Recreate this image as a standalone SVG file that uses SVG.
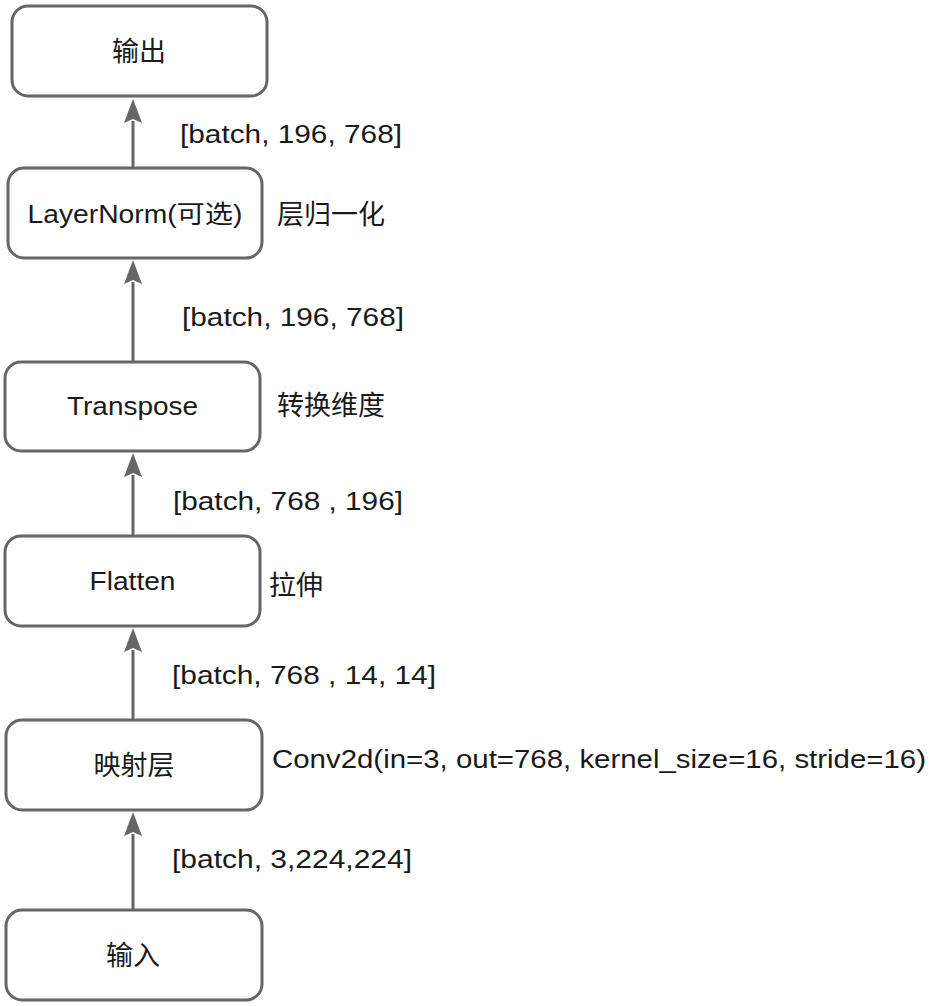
<svg xmlns="http://www.w3.org/2000/svg" width="944" height="1006" viewBox="0 0 944 1006">
<defs>
<style>
.box{fill:#fff;stroke:#666;stroke-width:3}
.t{font-family:"Liberation Sans","Noto Sans CJK SC",sans-serif;font-size:25px;fill:#1a1a1a}
.c{font-family:"Noto Sans CJK SC",sans-serif;font-size:27px;fill:#1a1a1a}
.m{text-anchor:middle}
.edge{stroke:#666;stroke-width:3;fill:none}
.head{fill:#666}
</style>
<marker id="arr" viewBox="0 0 20 24" refX="10" refY="0" markerWidth="20" markerHeight="24" markerUnits="userSpaceOnUse" orient="auto-start-reverse">
<path d="M10 0 L1 24 L10 20 L19 24 Z" class="head"/>
</marker>
</defs>
<rect width="944" height="1006" fill="#fff"/>
<g id="connectors">
<line class="edge" x1="133" y1="910" x2="133" y2="834"/>
<path class="head" d="M133 812 L124 836 L133 832 L142 836 Z"/>
<line class="edge" x1="133" y1="720" x2="133" y2="650"/>
<path class="head" d="M133 628 L124 652 L133 648 L142 652 Z"/>
<line class="edge" x1="133" y1="536" x2="133" y2="475"/>
<path class="head" d="M133 453 L124 477 L133 473 L142 477 Z"/>
<line class="edge" x1="133" y1="362" x2="133" y2="282"/>
<path class="head" d="M133 260 L124 284 L133 280 L142 284 Z"/>
<line class="edge" x1="133" y1="168" x2="133" y2="121"/>
<path class="head" d="M133 99 L124 123 L133 119 L142 123 Z"/>
<text class="t" x="180" y="143" textLength="222" lengthAdjust="spacingAndGlyphs">[batch, 196, 768]</text>
<text class="t" x="182" y="326" textLength="222" lengthAdjust="spacingAndGlyphs">[batch, 196, 768]</text>
<text class="t" x="173" y="510" textLength="230" lengthAdjust="spacingAndGlyphs">[batch, 768 , 196]</text>
<text class="t" x="172" y="684" textLength="264" lengthAdjust="spacingAndGlyphs">[batch, 768 , 14, 14]</text>
<text class="t" x="172" y="868" textLength="240" lengthAdjust="spacingAndGlyphs">[batch, 3,224,224]</text>
</g>
<g id="node-output">
<rect class="box" x="12" y="6" width="255" height="90" rx="16"/>
<text class="c m" x="139" y="61">输出</text>
</g>
<g id="node-layernorm">
<rect class="box" x="8" y="168" width="254" height="90" rx="16"/>
<text class="t m" x="135" y="223" textLength="215" lengthAdjust="spacingAndGlyphs">LayerNorm(可选)</text>
<text class="c" x="277" y="224">层归一化</text>
</g>
<g id="node-transpose">
<rect class="box" x="5" y="362" width="255" height="89" rx="16"/>
<text class="t m" x="132.5" y="415" textLength="131" lengthAdjust="spacingAndGlyphs">Transpose</text>
<text class="c" x="277" y="415">转换维度</text>
</g>
<g id="node-flatten">
<rect class="box" x="5" y="536" width="255" height="90" rx="16"/>
<text class="t m" x="132.5" y="590" textLength="86" lengthAdjust="spacingAndGlyphs">Flatten</text>
<text class="c" x="269" y="595">拉伸</text>
</g>
<g id="node-projection">
<rect class="box" x="6" y="720" width="256" height="90" rx="16"/>
<text class="c m" x="134" y="775">映射层</text>
<text class="t" x="272" y="768" font-size="28" textLength="654" lengthAdjust="spacingAndGlyphs">Conv2d(in=3, out=768, kernel_size=16, stride=16)</text>
</g>
<g id="node-input">
<rect class="box" x="6" y="910" width="256" height="90" rx="16"/>
<text class="c m" x="133" y="965">输入</text>
</g>
</svg>
